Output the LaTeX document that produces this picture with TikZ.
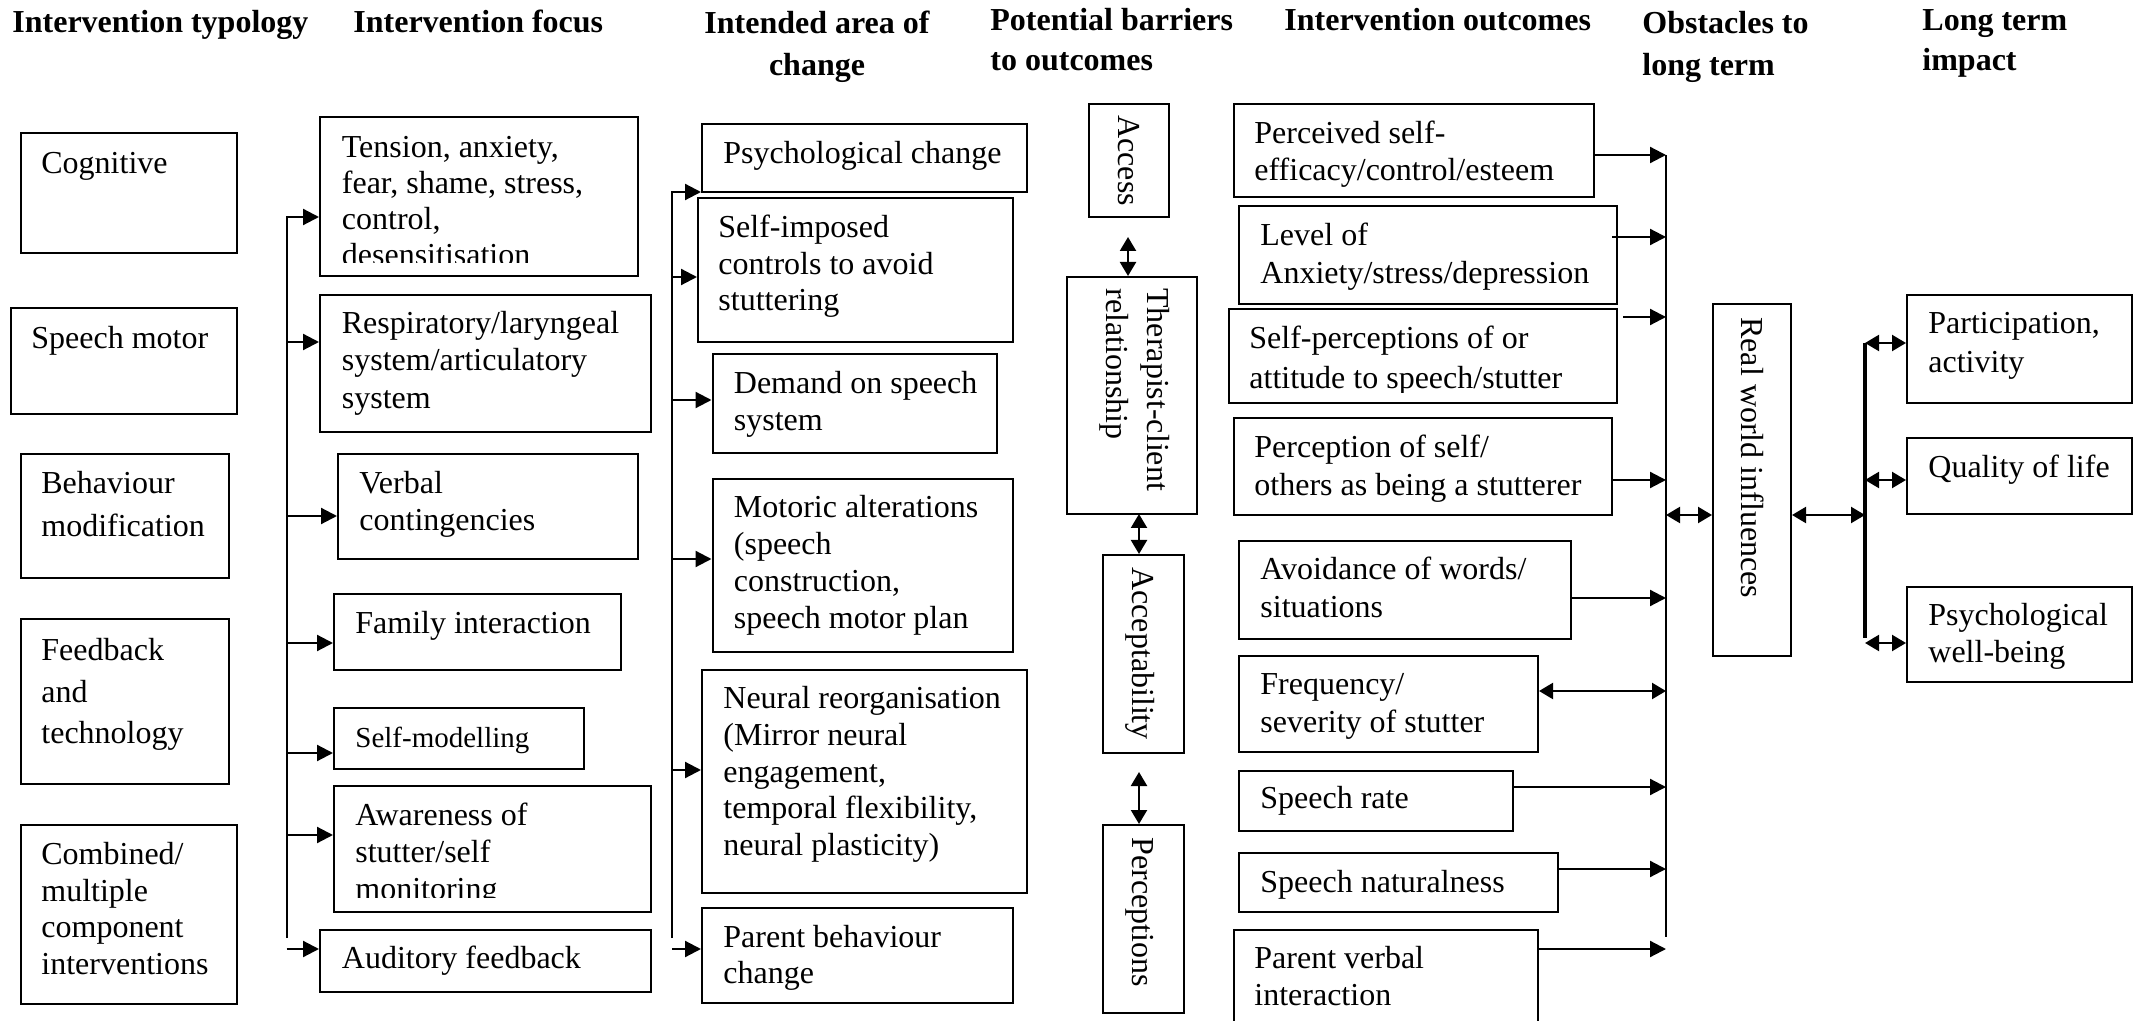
\documentclass[tikz,border=0pt]{standalone}
\usepackage{fontspec}
\setmainfont{Liberation Serif}
\usetikzlibrary{arrows.meta,fit}
\tikzset{
  bxs/.style={draw,line width=1pt,inner sep=0pt},
  txt/.style={inner sep=0pt,align=left,anchor=north west},
  arr/.style={line width=1.1pt,-{Triangle[length=8pt,width=8pt]}},
  darr/.style={line width=1.1pt,{Triangle[length=7pt,width=8pt]}-{Triangle[length=7pt,width=8pt]}},
  ln/.style={line width=1.1pt},
  rtx/.style={inner sep=0pt,rotate=-90,anchor=base west,font=\fontsize{16}{20}\selectfont}
}
\newcommand\bx[5]{\node[bxs,fit={(#2,#3) (#4,#5)}] (#1) {};}
\newcommand\btxt[5]{\node[txt,font=\fontsize{16}{#4}\selectfont] (#1) at (#2,#3-24) {\rule{0pt}{12pt}#5};}
\newcommand\hdr[5]{\node[txt,font=\bfseries\fontsize{16}{#4}\selectfont] (#1) at (#2,#3-24) {\rule{0pt}{12pt}#5};}
\begin{document}
\begin{tikzpicture}[x=0.5pt,y=-0.5pt]
\path[use as bounding box,clip] (0,0) rectangle (2143,1021);
% headers
\hdr{h1}{12}{32}{21}{Intervention typology}
\hdr{h2}{353}{32}{21}{Intervention focus}
\node[txt,anchor=north,align=center,font=\bfseries\fontsize{16}{21}\selectfont] (h3) at (817,33-24) {\rule{0pt}{12pt}Intended area of\\change};
\hdr{h4}{990}{30}{20}{Potential barriers\\to outcomes}
\hdr{h5}{1284}{30}{21}{Intervention outcomes}
\hdr{h6}{1642}{33}{21}{Obstacles to\\long term}
\hdr{h7}{1922}{30}{20}{Long term\\impact}
% column 1
\bx{cog}{21}{133}{237}{253} \btxt{cogT}{41}{173}{21}{Cognitive}
\bx{spm}{11}{308}{237}{414} \btxt{spmT}{31}{348}{21}{Speech motor}
\bx{beh}{21}{454}{229}{578} \btxt{behT}{41}{493}{21.5}{Behaviour\\modification}
\bx{fbt}{21}{619}{229}{784} \btxt{fbtT}{41}{660}{20.8}{Feedback\\and\\technology}
\bx{cmb}{21}{825}{237}{1004} \btxt{cmbT}{41}{864}{18.3}{Combined/\\multiple\\component\\interventions}
% column 2
\bx{ten}{320}{117}{638}{276}
\begin{scope}\clip (320,117) rectangle (638,263);
\btxt{tenT}{341.5}{157}{18}{Tension, anxiety,\\fear, shame, stress,\\control,\\desensitisation}
\end{scope}
\bx{res}{320}{295}{651}{432} \btxt{resT}{341.5}{333}{18.75}{Respiratory/laryngeal\\system/articulatory\\system}
\bx{ver}{338}{454}{638}{559} \btxt{verT}{359}{493}{18.5}{Verbal\\contingencies}
\bx{fam}{334}{594}{620.5}{670} \btxt{famT}{355}{633}{18.5}{Family interaction}
\bx{slf}{334}{708}{584}{769}
\node[txt,font=\fontsize{14.5}{17}\selectfont] (slfT) at (355,747-22) {\rule{0pt}{11pt}Self-modelling};
\bx{awa}{334}{786}{651}{912}
\begin{scope}\clip (334,786) rectangle (651,897);
\btxt{awaT}{355}{825}{18.5}{Awareness of\\stutter/self\\monitoring}
\end{scope}
\bx{aud}{320}{930}{651}{992} \btxt{audT}{341.5}{968}{18.5}{Auditory feedback}
% column 3
\bx{psy}{702}{124}{1027}{192} \btxt{psyT}{723}{163}{18.5}{Psychological change}
\bx{sim}{698}{198}{1012.5}{342} \btxt{simT}{718}{237}{18.4}{Self-imposed\\controls to avoid\\stuttering}
\bx{dem}{712.5}{354}{997}{453} \btxt{demT}{733.5}{393}{18.5}{Demand on speech\\system}
\bx{mot}{712.5}{479}{1012.5}{652} \btxt{motT}{733.5}{517}{18.5}{Motoric alterations\\(speech\\construction,\\speech motor plan}
\bx{neu}{702}{670}{1027}{893} \btxt{neuT}{723}{708}{18.4}{Neural reorganisation\\(Mirror neural\\engagement,\\temporal flexibility,\\neural plasticity)}
\bx{pbc}{702}{908}{1012.5}{1003} \btxt{pbcT}{723}{947}{18}{Parent behaviour\\change}
% column 4 barriers
\bx{acc}{1089}{104}{1169}{217} \node[rtx] (accT) at (1118,115) {Access};
\bx{thr}{1067}{277}{1197}{514}
\node[txt,rotate=-90,font=\fontsize{16}{20.5}\selectfont] (thrT) at (1172,288) {\rule{0pt}{12pt}Therapist-client\\relationship};
\bx{acp}{1103}{555}{1183.5}{753} \node[rtx] (acpT) at (1132,567) {Acceptability};
\bx{per}{1103}{825}{1183.5}{1013} \node[rtx] (perT) at (1132,837) {Perceptions};
% column 5 outcomes
\bx{pse}{1234}{104}{1594}{197} \btxt{pseT}{1254}{143}{18.5}{Perceived self-\\efficacy/control/esteem}
\bx{lev}{1239}{206}{1617}{304} \btxt{levT}{1260}{245}{19}{Level of\\Anxiety/stress/depression}
\bx{spc}{1229}{309}{1617}{403}
\begin{scope}\clip (1229,309) rectangle (1617,393);
\btxt{spcT}{1249}{348}{20}{Self-perceptions of or\\attitude to speech/stutter}
\end{scope}
\bx{pos}{1234}{418}{1612}{515} \btxt{posT}{1254}{457}{19}{Perception of self/\\others as being a stutterer}
\bx{avd}{1239}{541}{1571}{639} \btxt{avdT}{1260}{579}{19}{Avoidance of words/\\situations}
\bx{frq}{1239}{656}{1538}{752} \btxt{frqT}{1260}{694}{19}{Frequency/\\severity of stutter}
\bx{spr}{1239}{771}{1513}{831} \btxt{sprT}{1260}{808}{19}{Speech rate}
\bx{spn}{1239}{853}{1558}{912} \btxt{spnT}{1260}{892}{19}{Speech naturalness}
\bx{pvi}{1234}{930}{1538}{1030} \btxt{pviT}{1254}{968}{18.5}{Parent verbal\\interaction}
% column 6
\bx{rwi}{1713}{304}{1791}{656} \node[rtx] (rwiT) at (1741,317) {Real world influences};
% column 7
\bx{par}{1907}{295}{2132}{403} \btxt{parT}{1928}{333}{19.5}{Participation,\\activity}
\bx{qol}{1907}{438}{2132}{514} \btxt{qolT}{1928}{477}{19}{Quality of life}
\bx{pwb}{1907}{587}{2132}{682} \btxt{pwbT}{1928}{625}{18.5}{Psychological\\well-being}
% bracket 1
\coordinate (b1t) at (286.6,217); \coordinate (b1b) at (286.6,938);
\coordinate (b1c) at (286.6,342); \coordinate (b1d) at (286.6,516);
\coordinate (b1e) at (286.6,643); \coordinate (b1f) at (286.6,753);
\coordinate (b1g) at (286.6,835); \coordinate (b1h) at (286.6,949);
\draw[arr] (b1b) -- (b1t) -- (b1t -| ten.west);
\draw[arr] (b1c) -- (b1c -| res.west);
\draw[arr] (b1d) -- (b1d -| ver.west);
\draw[arr] (b1e) -- (b1e -| fam.west);
\draw[arr] (b1f) -- (b1f -| slf.west);
\draw[arr] (b1g) -- (b1g -| awa.west);
\draw[arr] (b1h) -- (b1h -| aud.west);
% bracket 2
\coordinate (b2t) at (672,192); \coordinate (b2b) at (672,938);
\coordinate (b2c) at (672,277); \coordinate (b2d) at (672,400);
\coordinate (b2e) at (672,559); \coordinate (b2f) at (672,770);
\coordinate (b2g) at (672,949);
\draw[arr] (b2b) -- (b2t) -- (b2t -| psy.west);
\draw[arr] (b2c) -- (b2c -| sim.west);
\draw[arr] (b2d) -- (b2d -| dem.west);
\draw[arr] (b2e) -- (b2e -| mot.west);
\draw[arr] (b2f) -- (b2f -| neu.west);
\draw[arr] (b2g) -- (b2g -| pbc.west);
% barriers
\coordinate (ba1) at (1128,237);
\draw[darr] (ba1) -- (ba1 |- thr.north);
\coordinate (ba2) at (1139,514);
\draw[darr] (ba2) -- (ba2 |- acp.north);
\coordinate (ba3) at (1139,772);
\draw[darr] (ba3) -- (ba3 |- per.north);
% bracket 3
\coordinate (b3t) at (1666,155); \coordinate (b3b) at (1666,937);
\draw[ln] (b3t) -- (b3b);
\draw[arr] (b3t -| pse.east) -- (b3t);
\coordinate (l2s) at (1612,237); \coordinate (l2e) at (1666,237);
\draw[arr] (l2s) -- (l2e);
\coordinate (l3s) at (1623,317); \coordinate (l3e) at (1666,317);
\draw[arr] (l3s) -- (l3e);
\coordinate (l4) at (1666,480); \draw[arr] (l4 -| pos.east) -- (l4);
\coordinate (l5) at (1666,598); \draw[arr] (l5 -| avd.east) -- (l5);
\coordinate (l6) at (1666,691); \draw[darr] (l6 -| frq.east) -- (l6);
\coordinate (l7) at (1666,787); \draw[arr] (l7 -| spr.east) -- (l7);
\coordinate (l8) at (1666,869); \draw[arr] (l8 -| spn.east) -- (l8);
\coordinate (l9) at (1666,949); \draw[arr] (l9 -| pvi.east) -- (l9);
% real world
\coordinate (rw) at (1666,515); \coordinate (b4m) at (1865,515);
\draw[darr] (rw) -- (rw -| rwi.west);
\draw[darr] (b4m -| rwi.east) -- (b4m);
% bracket 4
\coordinate (b4t) at (1865,343); \coordinate (b4b) at (1865,638);
\coordinate (b4c) at (1865,480); \coordinate (b4d) at (1865,643);
\draw[line width=2pt] (b4t) -- (b4b);
\draw[darr] (b4t) -- (b4t -| par.west);
\draw[darr] (b4c) -- (b4c -| qol.west);
\draw[darr] (b4d) -- (b4d -| pwb.west);
\end{tikzpicture}
\end{document}
